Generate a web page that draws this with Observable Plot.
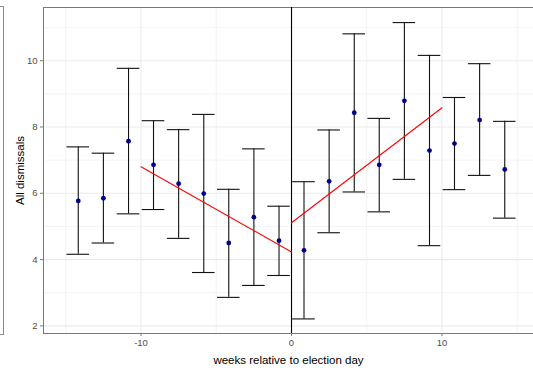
<!DOCTYPE html>
<html>
<head>
<meta charset="utf-8">
<script src="https://cdn.jsdelivr.net/npm/d3@7"></script>
<script src="https://cdn.jsdelivr.net/npm/@observablehq/plot@0.6"></script>
<style>
  html, body { margin: 0; padding: 0; background: #fff; overflow: hidden; }
  #wrap { position: relative; width: 533px; height: 368px; }
  #edge { position: absolute; left: 0; top: 6px; width: 3px; height: 327px;
          border-right: 1px solid #8a8a8a; border-top: 1px solid #8a8a8a; border-bottom: 1px solid #8a8a8a; }
  svg { font-family: "Liberation Sans", Arial, sans-serif; }
</style>
</head>
<body>
<div id="wrap"><div id="edge"></div></div>
<script>
const weeks = [-14.17, -12.5, -10.83, -9.17, -7.5, -5.83, -4.17, -2.5, -0.83,
               0.83, 2.5, 4.17, 5.83, 7.5, 9.17, 10.83, 12.5, 14.17];
const means = [5.77, 5.85, 7.57, 6.86, 6.29, 5.99, 4.50, 5.28, 4.57,
               4.28, 6.36, 8.43, 6.86, 8.79, 7.29, 7.50, 8.21, 6.72];
const lower = [4.16, 4.50, 5.38, 5.51, 4.64, 3.61, 2.86, 3.22, 3.52,
               2.21, 4.81, 6.04, 5.44, 6.42, 4.42, 6.11, 6.54, 5.25];
const upper = [7.40, 7.21, 9.77, 8.19, 7.92, 8.38, 6.12, 7.34, 5.61,
               6.35, 7.91, 10.81, 8.26, 11.15, 10.16, 8.89, 9.91, 8.17];
const fitSide = ["pre", "pre", "post", "post"];
const fitX = [-10, 0, 0, 10];
const fitY = [6.80, 4.23, 5.11, 8.58];
const xTicks = [-10, 0, 10];
const xMinor = [-15, -5, 5, 15];
const yTicks = [2, 4, 6, 8, 10];
const yMinor = [3, 5, 7, 9, 11];

const bins = weeks.map((w, i) => ({x: w, y: means[i], lo: lower[i], hi: upper[i]}));
const fit = fitX.map((x, i) => ({x, y: fitY[i], side: fitSide[i]}));
const capHalf = 0.75;

const chart = Plot.plot({
  width: 533,
  height: 368,
  marginTop: 7,
  marginBottom: 35,
  marginLeft: 43,
  marginRight: 0,
  style: {fontFamily: "'Liberation Sans', Arial, sans-serif", background: "transparent"},
  x: {domain: [-16.48, 16.08]},
  y: {domain: [1.77, 11.605]},
  marks: [
    Plot.ruleX(xMinor, {stroke: "#ebebeb", strokeWidth: 0.6}),
    Plot.ruleY(yMinor, {stroke: "#ebebeb", strokeWidth: 0.6}),
    Plot.ruleX(xTicks, {stroke: "#ebebeb", strokeWidth: 1.1}),
    Plot.ruleY(yTicks, {stroke: "#ebebeb", strokeWidth: 1.1}),
    Plot.frame({anchor: "left", stroke: "#7a7a7a", strokeWidth: 1}),
    Plot.frame({anchor: "top", stroke: "#7a7a7a", strokeWidth: 1}),
    Plot.frame({anchor: "bottom", stroke: "#7a7a7a", strokeWidth: 1}),
    Plot.axisX(xTicks, {tickSize: 3, tickPadding: 3, stroke: "#7a7a7a", color: "#4d4d4d", fontSize: 9.5,
      tickFormat: d => String(d),
      label: "weeks relative to election day", labelAnchor: "center", labelArrow: "none", labelOffset: 30}),
    Plot.axisY(yTicks, {tickSize: 3, tickPadding: 3, stroke: "#7a7a7a", color: "#4d4d4d", fontSize: 9.5,
      tickFormat: d => String(d),
      label: "All dismissals", labelAnchor: "center", labelArrow: "none", labelOffset: 28}),
    Plot.ruleX(bins, {x: "x", y1: "lo", y2: "hi", stroke: "#111", strokeWidth: 1.1}),
    Plot.ruleY(bins, {y: "lo", x1: d => d.x - capHalf, x2: d => d.x + capHalf, stroke: "#111", strokeWidth: 1.1}),
    Plot.ruleY(bins, {y: "hi", x1: d => d.x - capHalf, x2: d => d.x + capHalf, stroke: "#111", strokeWidth: 1.1}),
    Plot.dot(bins, {x: "x", y: "y", r: 2.4, fill: "#00008b", stroke: "none"}),
    Plot.ruleX([0], {stroke: "#000", strokeWidth: 1.1}),
    Plot.line(fit, {x: "x", y: "y", z: "side", stroke: "#ff0000", strokeWidth: 1.1})
  ]
});
d3.select(chart).selectAll("[aria-label='x-axis label'] text, [aria-label='y-axis label'] text")
  .attr("fill", "#000").style("font-size", "11.5px");
document.getElementById("wrap").appendChild(chart);
chart.style.position = "absolute";
chart.style.left = "0";
chart.style.top = "0";
</script>
</body>
</html>
